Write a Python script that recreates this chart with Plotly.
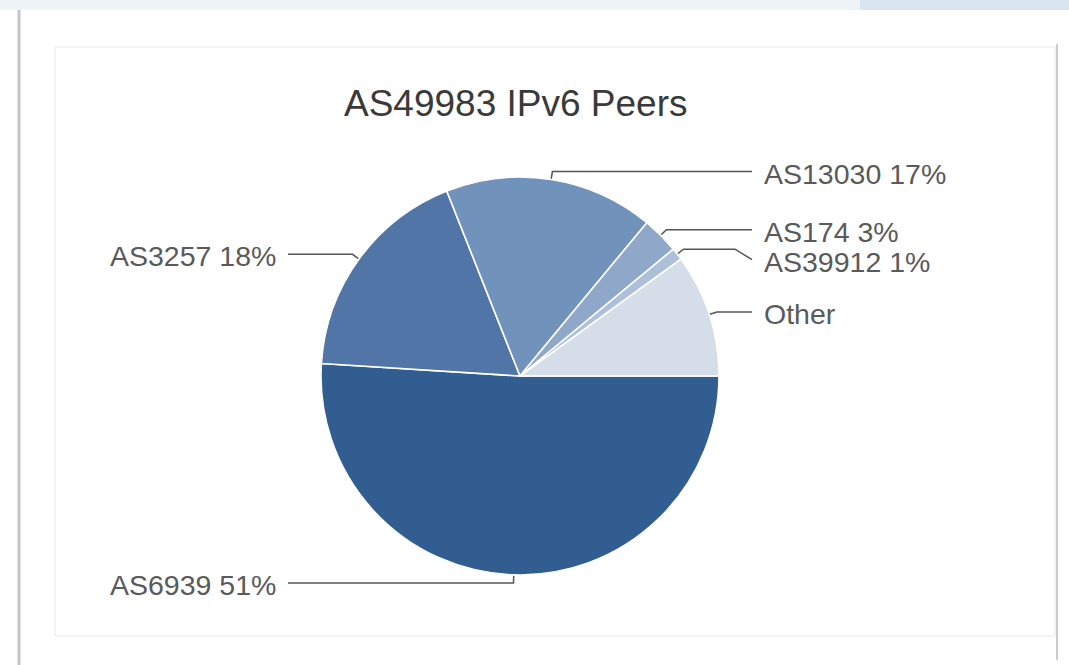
import numpy as np
import plotly.graph_objects as go

# ---- data ----
labels = ["AS6939", "AS3257", "AS13030", "AS174", "AS39912", "Other"]
values = [51, 18, 17, 3, 1, 10]
pct_text = ["51%", "18%", "17%", "3%", "1%", ""]
colors = ["#325d91", "#5075a6", "#7192bb", "#8fa7c9", "#adc0da", "#d5dde8"]
title_text = "AS49983 IPv6 Peers"

# ---- geometry (pixels) ----
W, H = 1069, 665
CX, CY, R = 520, 376, 199
FONT = "Liberation Sans, Arial, Helvetica, sans-serif"

fig = go.Figure()

# decorative page frame
frame_shapes = [
    dict(type="rect", x0=0, x1=W, y0=0, y1=10, line=dict(width=0), fillcolor="#eef3f8", layer="below"),
    dict(type="rect", x0=860, x1=W, y0=0, y1=10, line=dict(width=0), fillcolor="#d9e5f0", layer="below"),
    dict(type="line", x0=19, x1=19, y0=10, y1=H, line=dict(color="#c4c4c4", width=3), layer="below"),
    dict(type="line", x0=1057, x1=1057, y0=44, y1=660, line=dict(color="#cccccc", width=2), layer="below"),
    dict(type="rect", x0=55, x1=1055, y0=47, y1=636, line=dict(color="#e8e8e8", width=1), layer="below"),
]

fig.add_trace(go.Pie(
    labels=labels, values=values, sort=False, direction="clockwise", rotation=90,
    marker=dict(colors=colors, line=dict(color="white", width=1.6)),
    textinfo="none", showlegend=False, hoverinfo="label+percent",
    domain=dict(x=[(CX - R) / W, (CX + R) / W], y=[1 - (CY + R) / H, 1 - (CY - R) / H]),
))

# ---- labels with connectors, computed from the data ----
vals = np.array(values, dtype=float)
cum = np.concatenate([[0], np.cumsum(vals)[:-1]])
mid = 2 * np.pi * (cum + vals / 2) / vals.sum()  # clockwise from 3 o'clock (screen coords)

items = []
for i, th in enumerate(mid):
    ex, ey = CX + R * np.cos(th), CY + R * np.sin(th)
    bx, by = CX + (R + 8) * np.cos(th), CY + (R + 8) * np.sin(th)
    side = 1 if np.cos(th) >= 0 else -1
    items.append(dict(i=i, ex=ex, ey=ey, bx=bx, by=by, side=side, ly=by))

for side in (1, -1):
    grp = sorted([it for it in items if it["side"] == side], key=lambda d: d["by"])
    prev = -1e9
    for it in grp:
        it["ly"] = max(it["by"], prev + 30)
        prev = it["ly"]

annotations = []
for it in items:
    s = it["side"]
    xs = [it["ex"], it["bx"], CX + s * (R + 16), CX + s * (R + 33)]
    ys = [it["ey"], it["by"], it["by"], it["ly"]]
    fig.add_trace(go.Scatter(x=xs, y=ys, mode="lines", line=dict(color="#555555", width=1.5),
                             hoverinfo="skip", showlegend=False))
    txt = labels[it["i"]] + (" " + pct_text[it["i"]] if pct_text[it["i"]] else "")
    annotations.append(dict(
        x=CX + s * (R + 43), y=it["ly"] + 2, xref="x", yref="y", text=txt, showarrow=False,
        xanchor="left" if s > 0 else "right", yanchor="middle",
        font=dict(family=FONT, size=28.5, color="#5a5a5a")))

annotations.append(dict(x=516, y=103, xref="x", yref="y", text=title_text, showarrow=False,
                        xanchor="center", yanchor="middle",
                        font=dict(family=FONT, size=37, color="#3a3a3a")))

fig.update_layout(
    width=W, height=H, margin=dict(l=0, r=0, t=0, b=0),
    paper_bgcolor="white", plot_bgcolor="rgba(0,0,0,0)",
    xaxis=dict(range=[0, W], visible=False, fixedrange=True),
    yaxis=dict(range=[H, 0], visible=False, fixedrange=True),
    shapes=frame_shapes, annotations=annotations,
)

fig.write_html("out.html", post_script="document.body.style.margin='0';",
               config={"displayModeBar": False})
